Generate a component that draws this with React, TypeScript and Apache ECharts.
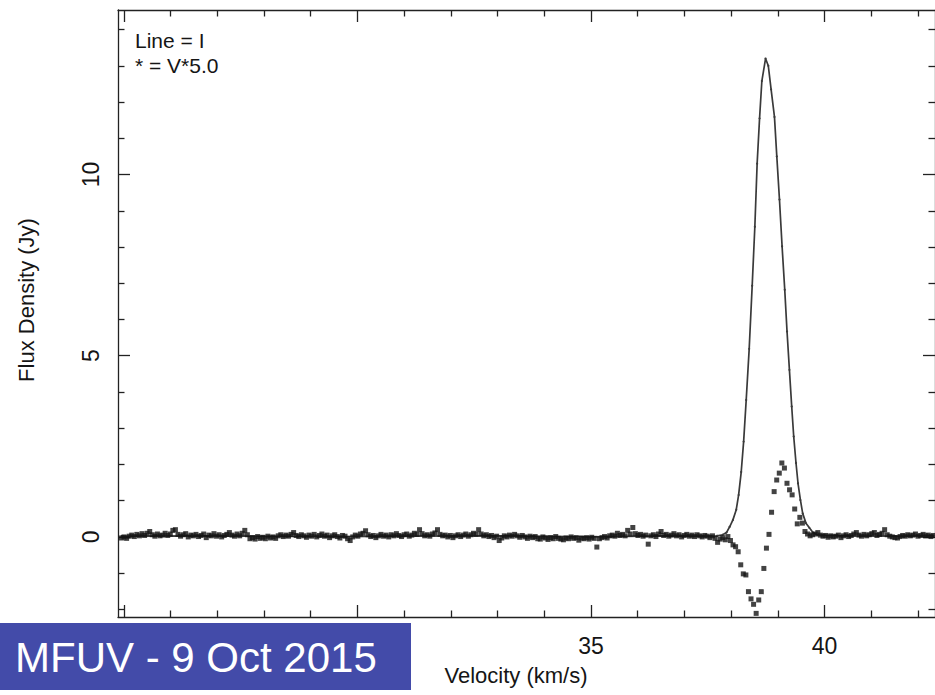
import React, { useEffect, useRef } from "react";
import * as echarts from "echarts";

// Spectrometer channel grid (km/s)
const velocityStart = 24.95;
const channelWidth = 0.055;

// Stokes V scaled by 5 (Jy), one value per channel
const stokesV5 = [
  -0.03, 0.0, -0.04, 0.02, 0.05, 0.01, 0.07, 0.03, 0.09, 0.04,
  0.1, 0.15, 0.06, 0.02, 0.08, 0.03, 0.05, 0.1, 0.04, 0.08,
  0.18, 0.2, 0.07, 0.02, 0.06, 0.09, 0.0, 0.05, 0.03, 0.07,
  0.01, 0.04, 0.08, -0.02, 0.05, 0.03, 0.09, 0.02, 0.06, 0.0,
  0.04, 0.07, 0.12, 0.05, 0.02, 0.08, 0.03, 0.1, 0.18, 0.06,
  -0.05, -0.02, -0.06, 0.01, -0.04, -0.01, -0.05, 0.02, -0.03, 0.0,
  -0.04, 0.03, 0.06, 0.01, 0.05, 0.02, 0.07, 0.12, 0.04, 0.01,
  0.06, 0.03, -0.01, 0.05, 0.02, 0.07, 0.0, 0.04, 0.08, 0.02,
  0.05, -0.02, 0.03, 0.06, 0.01, -0.03, 0.04, 0.02, -0.05, -0.1,
  0.0, 0.05, 0.02, 0.08, 0.1, 0.17, 0.06, 0.01, 0.04, -0.02,
  0.03, 0.07, 0.02, 0.05, 0.0, 0.06, 0.03, 0.09, 0.04, 0.01,
  0.06, 0.08, 0.02, 0.05, 0.1, 0.07, 0.2, 0.09, 0.03, 0.06,
  0.02, 0.08, 0.11, 0.2, 0.07, 0.03, 0.05, 0.0, 0.04, -0.02,
  0.03, 0.06, 0.01, 0.05, 0.08, 0.02, 0.06, 0.1, 0.07, 0.2,
  0.08, 0.03, 0.06, 0.01, 0.04, -0.02, 0.02, -0.1, -0.03, 0.03,
  0.0, 0.05, 0.02, 0.07, 0.03, -0.01, 0.04, 0.0, -0.04, 0.02,
  -0.02, 0.01, -0.05, -0.06, 0.0, -0.03, -0.07, -0.02, -0.05, 0.01,
  -0.04, -0.06, -0.08, -0.03, -0.05, 0.0, -0.04, -0.02, -0.09, -0.03,
  -0.05, -0.02, -0.06, -0.01, -0.04, -0.28, -0.05, -0.02, 0.01, -0.03,
  0.03, 0.05, 0.02, 0.1, 0.04, 0.07, 0.03, 0.18, 0.08, 0.26,
  0.09, 0.04, 0.07, 0.02, 0.05, -0.2, 0.03, 0.06, 0.01, 0.08,
  0.15, 0.04, 0.07, 0.02, 0.05, 0.09, 0.03, 0.06, 0.0, 0.04,
  0.07, 0.02, 0.05, 0.01, 0.06, 0.03, 0.0, 0.04, 0.02, -0.02,
  0.03, -0.04, -0.15, -0.06, -0.02, -0.08, 0.01, -0.1, -0.22, -0.27,
  -0.41, -0.77, -1.02, -1.05, -1.51, -1.71, -1.86, -2.11, -1.74, -1.51,
  -0.87, -0.31, 0.07, 0.68, 1.25, 1.57, 1.76, 2.04, 1.9, 1.48,
  1.3, 1.16, 0.77, 0.36, 0.54, 0.38, 0.15, 0.08, 0.03, 0.06,
  0.08, 0.12, 0.05, 0.02, 0.04, -0.01, 0.03, 0.0, 0.02, 0.05,
  -0.02, 0.03, 0.06, 0.01, 0.04, 0.08, 0.12, 0.05, 0.02, 0.07,
  0.03, 0.06, 0.09, 0.12, 0.04, 0.07, 0.1, 0.2, 0.06, 0.02,
  0.0, -0.02, -0.03, 0.01, 0.04, 0.02, 0.06, 0.03, 0.05, 0.08,
  0.02, 0.04, 0.07, 0.03, 0.05, 0.01, 0.04,
];

// Stokes I profile (Jy) drawn as the line
const lineVelocity = [
  24.95, 27.0, 29.5, 31.0, 33.0, 35.0, 36.5, 37.4, 37.7, 37.82,
  37.9, 37.968, 38.038, 38.109, 38.16, 38.215, 38.267, 38.322, 38.386, 38.45,
  38.507, 38.556, 38.608, 38.657, 38.736, 38.795, 38.855, 38.927, 38.977, 39.034,
  39.09, 39.147, 39.196, 39.247, 39.296, 39.339, 39.388, 39.431, 39.482, 39.531,
  39.601, 39.674, 39.75, 39.85, 40.5, 41.5, 42.33,
];
const lineFlux = [
  0.02, 0.03, 0.01, 0.02, 0.03, 0.0, 0.03, 0.02, 0.03, 0.06,
  0.12, 0.28, 0.47, 0.75, 1.16, 1.79, 2.63, 3.78, 5.19, 6.93,
  8.56, 10.3, 11.55, 12.58, 13.2, 13.0, 12.35, 11.59, 10.5, 9.31,
  8.02, 6.82, 5.67, 4.61, 3.6, 2.77, 2.04, 1.48, 1.02, 0.65,
  0.38, 0.25, 0.12, 0.05, 0.03, 0.02, 0.03,
];

// Axis ranges and tick positions
const xMin = 24.876;
const xMax = 42.363;
const yMin = -2.21;
const yMax = 14.54;
const xMajorTicks = [25, 30, 35, 40];
const xMinorTicks = [26, 27, 28, 29, 31, 32, 33, 34, 36, 37, 38, 39, 41, 42];
const xTickLabels = [35, 40];
const yMajorTicks = [0, 5, 10];
const yMinorTicks = [-2, -1, 1, 2, 3, 4, 6, 7, 8, 9, 11, 12, 13, 14];
const yTickLabels = [0, 5, 10];

const FONT = "'Liberation Sans', Arial, Helvetica, sans-serif";
const INK = "#151515";

function frameAxis(
  position: string,
  min: number,
  max: number,
  ticks: number[],
  tickLength: number,
  labels: number[] | null,
  showLine: boolean,
  rotate = 0
) {
  return {
    type: "value",
    position,
    min,
    max,
    splitLine: { show: false },
    axisLine: { show: showLine, onZero: false, lineStyle: { color: "#222", width: 1.3 } },
    axisTick: {
      show: true,
      inside: true,
      length: tickLength,
      customValues: ticks,
      lineStyle: { color: "#222", width: 1.3 },
    },
    axisLabel: labels
      ? {
          show: true,
          customValues: labels,
          margin: rotate ? 16 : 17,
          rotate,
          color: INK,
          fontSize: 23,
          fontFamily: FONT,
        }
      : { show: false },
  };
}

export default function App() {
  const ref = useRef<HTMLDivElement>(null);

  useEffect(() => {
    if (!ref.current) return;
    const chart = echarts.init(ref.current, null, { renderer: "svg" });

    const starData = stokesV5.map((v, i) => [velocityStart + i * channelWidth, v]);
    const lineData = lineVelocity.map((v, i) => [v, lineFlux[i]]);

    chart.setOption({
      animation: false,
      backgroundColor: "#ffffff",
      grid: { left: 118, top: 10, right: -2, bottom: 78, containLabel: false },
      xAxis: [
        frameAxis("bottom", xMin, xMax, xMajorTicks, 12, xTickLabels, true),
        frameAxis("bottom", xMin, xMax, xMinorTicks, 6.5, null, false),
        frameAxis("top", xMin, xMax, xMajorTicks, 12, null, true),
        frameAxis("top", xMin, xMax, xMinorTicks, 6.5, null, false),
      ],
      yAxis: [
        frameAxis("left", yMin, yMax, yMajorTicks, 12, yTickLabels, true, 90),
        frameAxis("left", yMin, yMax, yMinorTicks, 6.5, null, false),
        frameAxis("right", yMin, yMax, yMajorTicks, 12, null, true),
        frameAxis("right", yMin, yMax, yMinorTicks, 6.5, null, false),
      ],
      series: [
        {
          name: "I",
          type: "line",
          xAxisIndex: 0,
          yAxisIndex: 0,
          data: lineData,
          symbol: "circle",
          symbolSize: 2.2,
          showSymbol: true,
          lineStyle: { color: "#3a3a3a", width: 1.7 },
          itemStyle: { color: "#3a3a3a" },
          z: 3,
        },
        {
          name: "V*5.0",
          type: "scatter",
          xAxisIndex: 0,
          yAxisIndex: 0,
          data: starData,
          symbol: "rect",
          symbolSize: 5,
          itemStyle: { color: "#141414" },
          z: 4,
        },
      ],
      graphic: [
        {
          type: "text",
          x: 135,
          y: 40,
          z: 50,
          style: {
            text: "Line = I",
            fontSize: 21,
            fontFamily: FONT,
            fill: INK,
            verticalAlign: "middle",
          },
        },
        {
          type: "text",
          x: 135,
          y: 65,
          z: 50,
          style: {
            text: "* = V*5.0",
            fontSize: 21,
            fontFamily: FONT,
            fill: INK,
            verticalAlign: "middle",
          },
        },
        {
          type: "text",
          x: 516,
          y: 675,
          z: 50,
          style: {
            text: "Velocity (km/s)",
            fontSize: 22,
            fontFamily: FONT,
            fill: INK,
            align: "center",
            verticalAlign: "middle",
          },
        },
        {
          type: "text",
          x: 26,
          y: 300,
          rotation: Math.PI / 2,
          z: 50,
          style: {
            text: "Flux Density (Jy)",
            fontSize: 22,
            fontFamily: FONT,
            fill: INK,
            align: "center",
            verticalAlign: "middle",
          },
        },
        {
          type: "rect",
          z: 100,
          shape: { x: 0, y: 623, width: 411, height: 67 },
          style: { fill: "#434ba9" },
        },
        {
          type: "text",
          x: 15,
          y: 657,
          z: 101,
          style: {
            text: "MFUV - 9 Oct 2015",
            fontSize: 42,
            fontFamily: FONT,
            fill: "#ffffff",
            verticalAlign: "middle",
          },
        },
      ],
    });

    return () => chart.dispose();
  }, []);

  return (
    <div
      ref={ref}
      style={{ position: "fixed", left: 0, top: 0, width: 935, height: 695, background: "#fff" }}
    />
  );
}
